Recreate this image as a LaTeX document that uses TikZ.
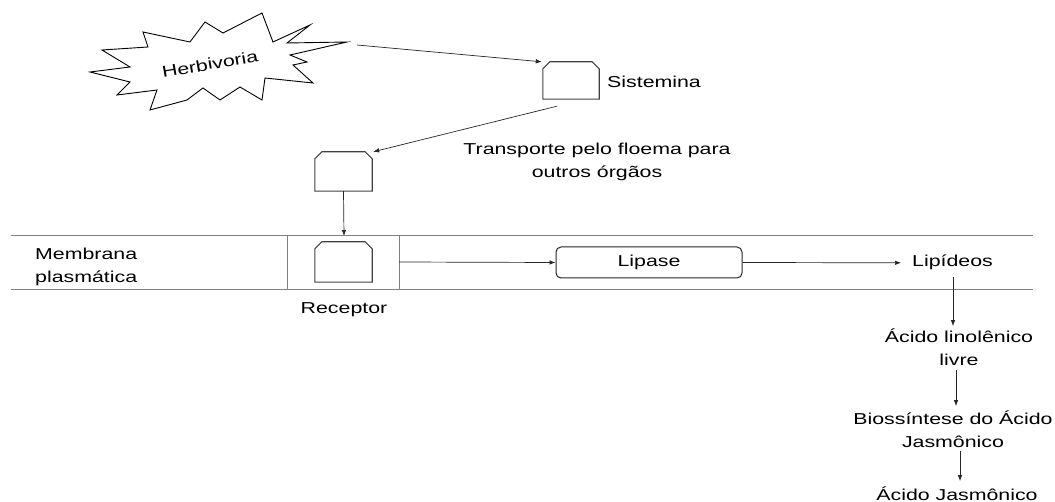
\documentclass[tikz,border=0pt]{standalone}
\usepackage{fontspec}
\setmainfont{Liberation Sans}[FakeStretch=1.35]
\usetikzlibrary{arrows.meta,calc}
\newcommand\chamfbox[1]{%
  \draw[shp] (#1.south west) -- ([yshift=-7pt]#1.north west) -- ([xshift=7pt]#1.north west)
    -- ([xshift=-7pt]#1.north east) -- ([yshift=-7pt]#1.north east) -- (#1.south east) -- cycle;}
\begin{document}
\begin{tikzpicture}[x=1pt,y=-1pt,
  font=\fontsize{15.8}{23}\selectfont,
  arr/.style={draw=black!85, line width=0.7pt, -{Latex[length=6pt,width=4.5pt]}},
  slot/.style={rectangle, draw=none, minimum width=57pt, minimum height=39pt, inner sep=0pt},
  shp/.style={draw=black!75, line width=1.1pt},
  memline/.style={draw=black!50, line width=1pt},
  txt/.style={inner sep=0pt, align=center},
  burst/.style={draw=black, line width=0.9pt, fill=white}]
\path[use as bounding box] (0,0) rectangle (1055,502);

% starburst
\draw[burst] (90,72) -- (130,67) -- (102,50) -- (148,47) -- (143,32) -- (190,42)
  -- (205,22) -- (223,33) -- (262,13) -- (273,42) -- (310,25) -- (287,43)
  -- (347,42) -- (290,55) -- (307,62) -- (293,65) -- (313,83) -- (265,78)
  -- (262,100) -- (240,87) -- (220,100) -- (203,88) -- (187,100) -- (150,110)
  -- (157,90) -- (117,95) -- (130,82) -- cycle;
\node[txt, rotate=10] (herb) at (210,64) {Herbivoria};
\coordinate (herbR) at (357,45);

% membrane
\coordinate (memL1) at (11,236);
\coordinate (memR1) at (1033,236);
\coordinate (memL2) at (11,290);
\coordinate (memR2) at (1033,290);
\draw[memline] (memL1) -- (memR1);
\draw[memline] (memL2) -- (memR2);
\coordinate (v1t) at (287,236); \coordinate (v1b) at (287,290);
\coordinate (v2t) at (399,236); \coordinate (v2b) at (399,290);
\draw[memline] (v1t) -- (v1b);
\draw[memline] (v2t) -- (v2b);
\node[txt, align=left, anchor=base west] (memb) at (35,283) {Membrana\\plasmática};

% chamfered shapes
\node[slot, minimum width=56pt, minimum height=37pt] (sist) at (571,80.5) {};
\chamfbox{sist}
\node[txt, anchor=base west] (sistl) at (607,88) {Sistemina};
\node[slot] (up) at (343.5,171.5) {};
\chamfbox{up}
\node[slot, minimum height=40pt] (rec) at (343.5,262) {};
\chamfbox{rec}
\node[txt, anchor=base] (recl) at (344,314) {Receptor};
\node[txt, anchor=base] (transp) at (597,178) {Transporte pelo floema para\\outros órgãos};

% lipase
\node[draw=black!85, line width=1pt, rounded corners=5pt, minimum width=186pt,
  minimum height=31pt, inner sep=0pt] (lipase) at (649,262.5) {Lipase};
\node[txt, anchor=base west] (lip) at (912,267) {Lipídeos};
\node[txt, anchor=base] (acl) at (959,366) {Ácido linolênico\\livre};
\node[txt, anchor=base] (bio) at (953,447) {Biossíntese do Ácido\\Jasmônico};
\node[txt, anchor=base] (aj) at (957,500) {Ácido Jasmônico};

% connectors
\coordinate (memtop) at (344,236);
\coordinate (rcell) at (399,262);
\coordinate (colA) at (953,0);
\coordinate (colB) at (956,0);
\coordinate (colC) at (960,0);
\draw[arr] (herbR) -- ([xshift=-1pt]sist.north west);
\draw[arr] ($(sist.south)+(-14,7)$) -- ([xshift=1pt]up.north east);
\draw[arr] (up.south) -- (memtop);
\draw[arr] (rcell) -- (lipase.west);
\draw[arr, shorten >=11pt] (lipase.east) -- (lip.west);
\draw[arr] ([yshift=-7pt]lip.south -| colA) -- ([yshift=3pt]acl.north -| colA);
\draw[arr] ([yshift=-4pt]acl.south -| colB) -- ([yshift=4pt]bio.north -| colB);
\draw[arr] ([yshift=-4pt]bio.south -| colC) -- ([yshift=5pt]aj.north -| colC);
\end{tikzpicture}
\end{document}
